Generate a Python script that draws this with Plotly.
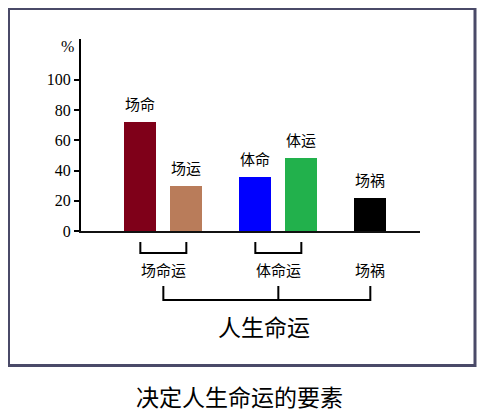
import plotly.graph_objects as go

# ---- data ----
bar_labels = ["场命", "场运", "体命", "体运", "场祸"]
bar_values = [72, 30, 36, 48, 22]
group_labels = ["场命运", "体命运", "场祸"]
group_members = [[0, 1], [2, 3], [4]]
overall_label = "人生命运"
title_text = "决定人生命运的要素"
y_ticks = [0, 20, 40, 60, 80, 100]

# ---- layout/style (not data) ----
bar_slots = [0, 1, 2.5, 3.5, 5]
bar_colors = ["#7f0019", "#b97c5a", "#0000ff", "#22b14c", "#000000"]
CJK = "Noto Sans CJK SC"

OFF = 8  # default page body margin
PAGE_W, PAGE_H = 492, 420
W, H = PAGE_W - OFF, PAGE_H - OFF
# page-pixel positions of plot area
AX_L, AX_R, AX_T, AX_B = 81, 420, 39, 231
L, R, T, B = AX_L - OFF, PAGE_W - AX_R, AX_T - OFF, PAGE_H - AX_B
plot_h = AX_B - AX_T
pw = AX_R - AX_L

fig = go.Figure()
fig.add_trace(go.Bar(
    x=bar_slots, y=bar_values, width=0.7,
    marker=dict(color=bar_colors, line=dict(width=0)),
    hoverinfo="skip", showlegend=False,
))

ann = []
for xs, v, lab in zip(bar_slots, bar_values, bar_labels):
    ann.append(dict(x=xs, y=v, xref="x", yref="y", text=lab, showarrow=False,
                    yanchor="bottom", yshift=6, font=dict(family=CJK, size=15, color="#000")))

shapes = []
group_centers = []
for gi, members in enumerate(group_members):
    xs = [bar_slots[m] for m in members]
    c = sum(xs) / len(xs)
    group_centers.append(c)
    if len(xs) > 1:
        shapes.append(dict(type="path", xref="x", yref="paper", ysizemode="pixel", yanchor=0,
                           path=f"M {xs[0]},-11 L {xs[0]},-22 L {xs[-1]},-22 L {xs[-1]},-11",
                           line=dict(color="#000", width=2)))
    ann.append(dict(x=c, y=0, xref="x", yref="paper", text=group_labels[gi], showarrow=False,
                    yanchor="middle", yshift=-38, font=dict(family=CJK, size=15, color="#000")))

g0, g1, g2 = group_centers
shapes.append(dict(type="path", xref="x", yref="paper", ysizemode="pixel", yanchor=0,
                   path=f"M {g0},-55 L {g0},-69 L {g2},-69 L {g2},-55 M {g1},-55 L {g1},-69",
                   line=dict(color="#000", width=2)))
ann.append(dict(x=(g0 + g2) / 2, y=0, xref="x", yref="paper", text=overall_label, showarrow=False,
                yanchor="middle", yshift=-95, xshift=-3,
                font=dict(family=CJK, size=23, color="#000")))

# percent sign
ann.append(dict(x=0, y=1, xref="paper", yref="paper", text="%", showarrow=False,
                xanchor="center", yanchor="middle", xshift=-14, yshift=-7,
                font=dict(family="Liberation Serif", size=16, color="#000")))

# title below the frame
ann.append(dict(x=(239 - AX_L) / pw, y=0, xref="paper", yref="paper", text=title_text,
                showarrow=False, yanchor="middle", yshift=-165,
                font=dict(family=CJK, size=23, color="#000")))

# outer frame (paper coords computed from page pixels)
def px(x):
    return (x - AX_L) / pw
def py(y):
    return (AX_B - y) / plot_h
shapes.append(dict(type="rect", xref="paper", yref="paper",
                   x0=px(8.5), x1=px(475), y0=py(8.5), y1=py(365.5),
                   line=dict(color="#4a4a68", width=3), layer="below"))

fig.update_layout(
    width=W, height=H,
    margin=dict(l=L, r=R, t=T, b=B, pad=0),
    paper_bgcolor="white", plot_bgcolor="white",
    bargap=0,
    annotations=ann, shapes=shapes,
    xaxis=dict(range=[-1.29, 6.08], showgrid=False, zeroline=False, showticklabels=False,
               ticks="", showline=True, linecolor="#111", linewidth=2, fixedrange=True),
    yaxis=dict(range=[0, 127], tickvals=y_ticks, ticktext=[str(t) for t in y_ticks],
               showgrid=False, zeroline=False, showline=True, linecolor="#000", linewidth=2,
               ticks="outside", ticklen=5, tickwidth=1.5, tickcolor="#000",
               tickfont=dict(family="Liberation Serif", size=16, color="#000"), fixedrange=True),
)

fig.write_html("out.html")
